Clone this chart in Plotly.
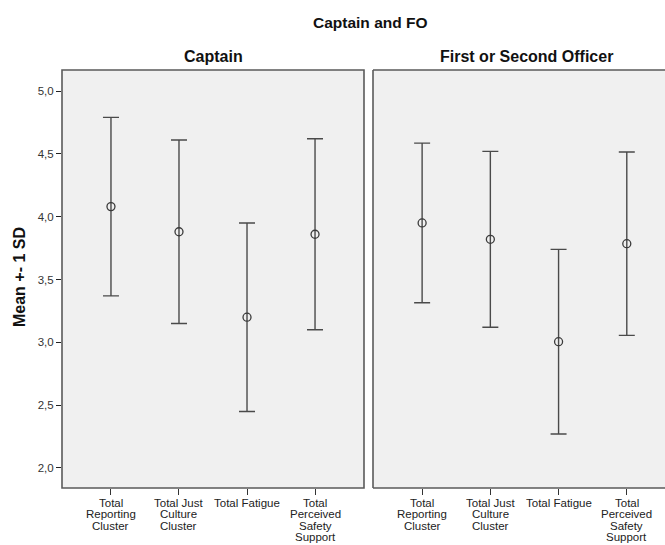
import plotly.graph_objects as go

# ---- data ----
categories = ["Total Reporting Cluster", "Total Just Culture Cluster",
              "Total Fatigue", "Total Perceived Safety Support"]
tick_labels = ["Total<br>Reporting<br>Cluster", "Total Just<br>Culture<br>Cluster",
               "Total Fatigue", "Total<br>Perceived<br>Safety<br>Support"]
panels = ["Captain", "First or Second Officer"]
captain_mean = [4.08, 3.88, 3.20, 3.86]
captain_sd = [0.71, 0.73, 0.75, 0.76]
fo_mean = [3.95, 3.82, 3.005, 3.785]
fo_sd = [0.635, 0.70, 0.735, 0.73]
y_ticks = [2.0, 2.5, 3.0, 3.5, 4.0, 4.5, 5.0]
y_tick_text = ["2,0", "2,5", "3,0", "3,5", "4,0", "4,5", "5,0"]
title = "Captain and FO"
y_title = "Mean +- 1 SD"

W, H = 665, 545
FONT = "Liberation Sans, Arial, sans-serif"
LINE = "#4a4a4a"

fig = go.Figure()
for means, sds, ax in [(captain_mean, captain_sd, "x"), (fo_mean, fo_sd, "x2")]:
    fig.add_trace(go.Scatter(
        x=categories, y=means, mode="markers",
        xaxis=ax, yaxis="y" if ax == "x" else "y2",
        marker=dict(symbol="circle-open", size=8, color="#3a3a3a",
                    line=dict(width=1.3, color="#3a3a3a")),
        error_y=dict(type="data", array=sds, symmetric=True,
                     color=LINE, thickness=1.4, width=8),
        showlegend=False, hoverinfo="skip"))

px_x = lambda p: p / W
px_y = lambda p: (H - p) / H

left_dom = [px_x(62), px_x(364)]
right_dom = [px_x(373), 1.0]
y_dom = [px_y(488), px_y(70)]
y_range = [2.0 - 20 / 125.6, 5.0 + 21 / 125.6]

xcommon = dict(type="category", categoryorder="array", categoryarray=categories,
               showticklabels=False, ticks="outside", ticklen=6, tickcolor="#333",
               tickwidth=1.2, showgrid=False, zeroline=False, showline=False,
               fixedrange=True)
fig.update_layout(
    width=W, height=H,
    margin=dict(l=0, r=0, t=0, b=0, autoexpand=False),
    paper_bgcolor="white", plot_bgcolor="#f0f0f0",
    font=dict(family=FONT, size=11.5, color="#222"),
    xaxis=dict(domain=left_dom, range=[-0.72, 3.72], anchor="y", **xcommon),
    xaxis2=dict(domain=right_dom, range=[-0.72, 3.56], anchor="y2", **xcommon),
    yaxis=dict(domain=y_dom, range=y_range, tickvals=y_ticks, ticktext=y_tick_text,
               ticks="outside", ticklen=5, tickcolor="#222", tickwidth=1.2,
               showgrid=False, zeroline=False, showline=False, anchor="x",
               tickfont=dict(size=11.5, color="#333"), fixedrange=True),
    yaxis2=dict(domain=y_dom, range=y_range, showticklabels=False, ticks="",
                showgrid=False, zeroline=False, showline=False, anchor="x2",
                fixedrange=True),
)

# panel frames (right panel continues past the page edge: no right side)
frame = dict(color="#5a5a5a", width=1.6)
fig.add_shape(type="rect", xref="paper", yref="paper",
              x0=left_dom[0], x1=left_dom[1], y0=y_dom[0], y1=y_dom[1],
              line=frame, fillcolor="rgba(0,0,0,0)")
xa, xb = right_dom[0], 1.03
fig.add_shape(type="rect", xref="paper", yref="paper", layer="below",
              x0=xa, x1=xb, y0=y_dom[0], y1=y_dom[1],
              line=dict(width=0), fillcolor="#f0f0f0")
for (x0, y0, x1, y1) in [(xa, y_dom[0], xa, y_dom[1]),
                         (xa, y_dom[1], xb, y_dom[1]),
                         (xa, y_dom[0], xb, y_dom[0])]:
    fig.add_shape(type="line", xref="paper", yref="paper",
                  x0=x0, y0=y0, x1=x1, y1=y1, line=frame)

ann = []
ann.append(dict(text="<b>%s</b>" % title, x=px_x(370), y=px_y(23), xref="paper", yref="paper",
                showarrow=False, font=dict(size=15.5, color="#111"),
                xanchor="center", yanchor="middle"))
for name, cx in zip(panels, [213, 526]):
    ann.append(dict(text="<b>%s</b>" % name, x=px_x(cx), y=px_y(57), xref="paper", yref="paper",
                    showarrow=False, font=dict(size=16, color="#111"),
                    xanchor="center", yanchor="middle"))
ann.append(dict(text="<b>%s</b>" % y_title, x=px_x(19), y=px_y(277), xref="paper", yref="paper",
                showarrow=False, textangle=-90, font=dict(size=16, color="#111"),
                xanchor="center", yanchor="middle"))
for ax in ["x", "x2"]:
    for cat, lab in zip(categories, tick_labels):
        for i, line in enumerate(lab.split("<br>")):
            ann.append(dict(text=line, x=cat, xref=ax, y=px_y(503 + 11.4 * i), yref="paper",
                            showarrow=False, font=dict(size=11.5, color="#222"),
                            xanchor="center", yanchor="middle"))
fig.update_layout(annotations=ann)

fig.write_html("out.html", config={"displayModeBar": False},
               post_script="document.body.style.margin='0';document.body.style.overflow='hidden';")
